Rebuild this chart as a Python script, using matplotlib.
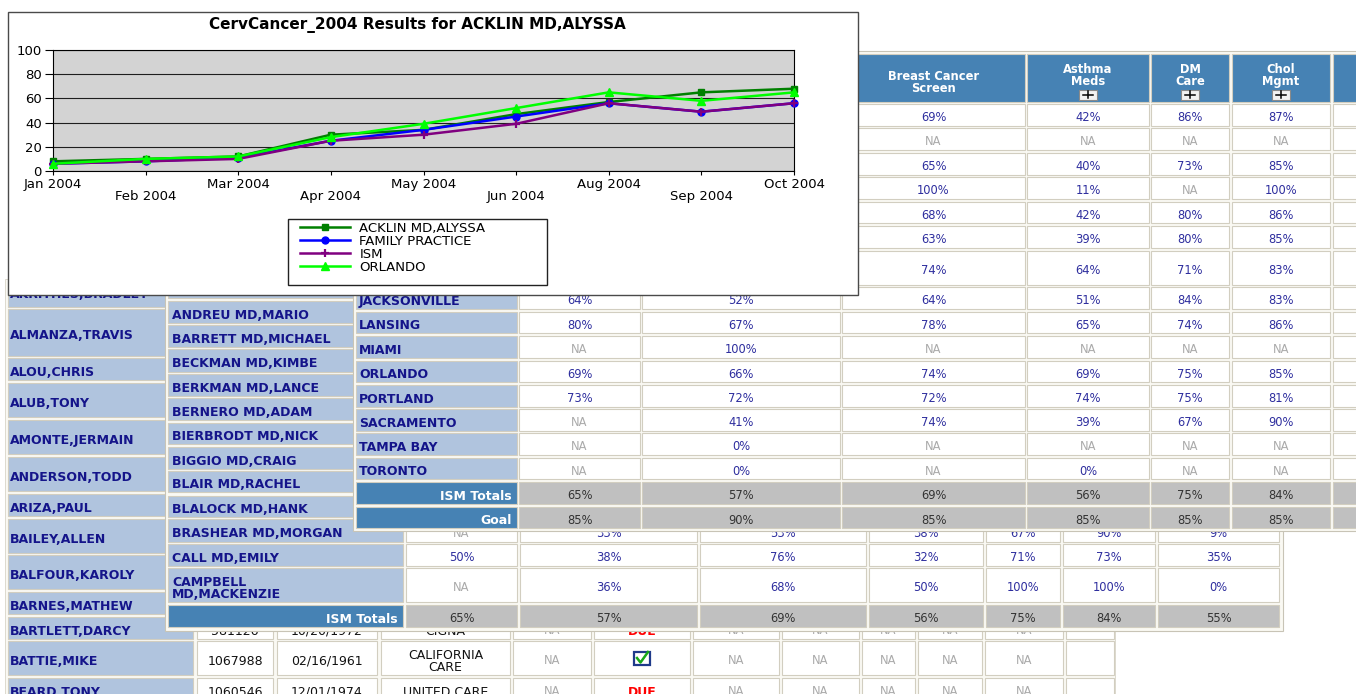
import matplotlib
matplotlib.use('Agg')
import matplotlib.pyplot as plt
from matplotlib.patches import Rectangle
from matplotlib.lines import Line2D

plt.rcParams['font.family'] = ['DejaVu Sans']

W, H, DPI = 1356, 694, 100

# ---------------- chart data ----------------
chart_title = 'CervCancer_2004 Results for ACKLIN MD,ALYSSA'
months = ['Jan 2004', 'Feb 2004', 'Mar 2004', 'Apr 2004', 'May 2004',
          'Jun 2004', 'Aug 2004', 'Sep 2004', 'Oct 2004']
series_names = ['ACKLIN MD,ALYSSA', 'FAMILY PRACTICE', 'ISM', 'ORLANDO']
acklin = [8, 10, 12, 30, 34, 47, 57, 65, 68]
family_practice = [6, 8, 11, 25, 34, 45, 56, 49, 56]
ism = [6, 8, 10, 25, 30, 39, 56, 49, 56]
orlando = [6, 10, 12, 28, 39, 52, 65, 58, 65]

# ---------------- location table (top layer) ----------------
loc_headers = ['', '', 'Breast Cancer\nScreen', 'Asthma\nMeds', 'DM\nCare', 'Chol\nMgmt', '']
loc_names = ['', '', '', '', '', '', '', 'JACKSONVILLE', 'LANSING', 'MIAMI', 'ORLANDO',
             'PORTLAND', 'SACRAMENTO', 'TAMPA BAY', 'TORONTO']
loc_c1 = ['', '', '', '', '', '', '', '64%', '80%', 'NA', '69%', '73%', 'NA', 'NA', 'NA']
loc_c2 = ['', '', '', '', '', '', '', '52%', '67%', '100%', '66%', '72%', '41%', '0%', '0%']
breast = ['69%', 'NA', '65%', '100%', '68%', '63%', '74%', '64%', '78%', 'NA', '74%', '72%', '74%', 'NA', 'NA']
asthma = ['42%', 'NA', '40%', '11%', '42%', '39%', '64%', '51%', '65%', 'NA', '69%', '74%', '39%', 'NA', '0%']
dm_care = ['86%', 'NA', '73%', 'NA', '80%', '80%', '71%', '84%', '74%', 'NA', '75%', '75%', '67%', 'NA', 'NA']
chol = ['87%', 'NA', '85%', '100%', '86%', '85%', '83%', '83%', '86%', 'NA', '85%', '81%', '90%', 'NA', 'NA']
loc_last = [''] * 15
loc_totals = ['65%', '57%', '69%', '56%', '75%', '84%', '']
loc_goal = ['85%', '90%', '85%', '85%', '85%', '85%', '']

# ---------------- physician table (middle layer) ----------------
phys_names = ['', 'ANDREU MD,MARIO', 'BARRETT MD,MICHAEL', 'BECKMAN MD,KIMBE', 'BERKMAN MD,LANCE',
              'BERNERO MD,ADAM', 'BIERBRODT MD,NICK', 'BIGGIO MD,CRAIG', 'BLAIR MD,RACHEL',
              'BLALOCK MD,HANK', 'BRASHEAR MD,MORGAN', 'CALL MD,EMILY', 'CAMPBELL\nMD,MACKENZIE']
hidden10 = [''] * 10
phys_c1 = hidden10 + ['NA', '50%', 'NA']
phys_c2 = hidden10 + ['33%', '38%', '36%']
phys_c3 = hidden10 + ['53%', '76%', '68%']
phys_c4 = hidden10 + ['38%', '32%', '50%']
phys_c5 = hidden10 + ['67%', '71%', '100%']
phys_c6 = hidden10 + ['90%', '73%', '100%']
phys_c7 = hidden10 + ['9%', '35%', '0%']
phys_totals = ['65%', '57%', '69%', '56%', '75%', '84%', '55%']

# ---------------- patient table (bottom layer) ----------------
pat_names = ['AKRITHES,BRADLEY', 'ALMANZA,TRAVIS', 'ALOU,CHRIS', 'ALUB,TONY', 'AMONTE,JERMAIN',
             'ANDERSON,TODD', 'ARIZA,PAUL', 'BAILEY,ALLEN', 'BALFOUR,KAROLY', 'BARNES,MATHEW',
             'BARTLETT,DARCY', 'BATTIE,MIKE', 'BEARD,TONY']
pat_ids = hidden10 + ['581126', '1067988', '1060546']
pat_dobs = hidden10 + ['10/20/1972', '02/16/1961', '12/01/1974']
pat_ins = hidden10 + ['CIGNA', 'CALIFORNIA\nCARE', 'UNITED CARE']
pat_m1 = hidden10 + ['NA', 'NA', 'NA']
pat_m2 = hidden10 + ['DUE', 'CHECK', 'DUE']
pat_m3 = hidden10 + ['NA', 'NA', 'NA']
pat_m4 = hidden10 + ['NA', 'NA', 'NA']
pat_m5 = hidden10 + ['NA', 'NA', 'NA']
pat_m6 = hidden10 + ['NA', 'NA', 'NA']
pat_m7 = hidden10 + ['NA', 'NA', 'NA']
pat_m8 = hidden10 + ['', '', '']

# ---------------- layout (pixels) ----------------
EDGE = '#D2CEC0'
LSB = '#B0C4DE'
STEEL = '#4682B4'
GRAY = '#C0C0C0'
NAVY = '#14148A'
VAL = '#2E2E9E'
NA_C = '#AAAAAA'
TOT = '#333333'
TBL_BG = '#FAF9F3'

fig = plt.figure(figsize=(W / DPI, H / DPI), dpi=DPI)
ax = fig.add_axes([0, 0, 1, 1])
ax.set_xlim(0, W)
ax.set_ylim(H, 0)
ax.axis('off')


def put(x, y, s, size, color, weight='normal', ha='center', z=1):
    if not s:
        return
    em = size * DPI / 72.0
    if '\n' in s:
        ax.text(x, y + 0.12 * em, s, ha=ha, va='center', multialignment=ha,
                fontsize=size, color=color, fontweight=weight, zorder=z, linespacing=0.95)
    else:
        ax.text(x, y + 0.3645 * em, s, ha=ha, va='baseline',
                fontsize=size, color=color, fontweight=weight, zorder=z)


def cell(x0, x1, y0, y1, face, z):
    ax.add_patch(Rectangle((x0, y0), x1 - x0, y1 - y0, facecolor=face,
                           edgecolor=EDGE, lw=0.8, zorder=z))


def value(x, y, s, z, total=False):
    if total:
        put(x, y, s, 8.3, TOT, z=z)
    else:
        put(x, y, s, 8.3, NA_C if s == 'NA' else VAL, z=z)


TOFF = 2.0  # text sits slightly below cell centre in the reference

# ===== Layer 1 : patient table =====
z = 1
ax.add_patch(Rectangle((5, 279), 1115 - 5, 430, facecolor=TBL_BG, edgecolor='#D8D4C8', lw=0.6, zorder=z))
p_cols = [(8, 193), (197, 273), (277, 377), (381, 510), (513, 591), (594, 690), (693, 779),
          (782, 859), (862, 915), (918, 982), (985, 1063), (1066, 1114)]
p_rows = [(282, 307), (309, 356), (358, 380), (383, 417), (420, 454), (457, 491), (494, 516),
          (519, 553), (555, 589), (592, 614), (617, 639), (641, 675), (678, 700)]
p_text_y = [293.5] + [None] * 12
p_data = [pat_ids, pat_dobs, pat_ins, pat_m1, pat_m2, pat_m3, pat_m4, pat_m5, pat_m6, pat_m7, pat_m8]
for i, (y0, y1) in enumerate(p_rows):
    cy = p_text_y[i] if p_text_y[i] is not None else (y0 + y1) / 2 + TOFF
    cell(p_cols[0][0], p_cols[0][1], y0, y1, LSB, z + 0.1)
    put(10, cy, pat_names[i], 9, NAVY, 'bold', ha='left', z=z + 0.2)
    if pat_ids[i] == '':
        continue
    for j, col in enumerate(p_data):
        x0, x1 = p_cols[j + 1]
        cell(x0, x1, y0, y1, 'white', z + 0.1)
        s = col[i]
        cx = (x0 + x1) / 2
        if s == 'NA':
            put(cx, cy, s, 8.3, NA_C, z=z + 0.2)
        elif s == 'DUE':
            put(cx, cy, s, 9, '#FF0000', 'bold', z=z + 0.2)
        elif s == 'CHECK':
            ax.add_patch(Rectangle((cx - 8, cy - 8), 16, 13, facecolor='white',
                                   edgecolor='#1F3A8A', lw=1.6, zorder=z + 0.3))
            ax.add_line(Line2D([cx - 5, cx - 1.5, cx + 6], [cy - 2, cy + 2.5, cy - 8],
                               color='#18A818', lw=1.8, zorder=z + 0.4))
        else:
            put(cx, cy, s, 9, '#111111', z=z + 0.2)

# ===== Layer 2 : physician table =====
z = 3
ax.add_patch(Rectangle((165, 272), 1283 - 165, 631 - 272, facecolor=TBL_BG, edgecolor='#C8C4B6', lw=0.8, zorder=z))
ph_cols = [(168, 403), (406, 517), (520, 697), (700, 866), (869, 983), (986, 1060), (1063, 1155), (1158, 1279)]
ph_rows = [(277, 298), (301, 323), (325, 347), (349, 372), (374, 396), (398, 420), (423, 444),
           (447, 469), (471, 492), (496, 517), (519, 542), (544, 566), (568, 602)]
ph_tot_row = (605, 627)
ph_data = [phys_c1, phys_c2, phys_c3, phys_c4, phys_c5, phys_c6, phys_c7]
for i, (y0, y1) in enumerate(ph_rows):
    cy = (y0 + y1) / 2 + TOFF
    cell(ph_cols[0][0], ph_cols[0][1], y0, y1, LSB, z + 0.1)
    put(172, cy, phys_names[i], 9, NAVY, 'bold', ha='left', z=z + 0.2)
    for j, col in enumerate(ph_data):
        x0, x1 = ph_cols[j + 1]
        cell(x0, x1, y0, y1, 'white', z + 0.1)
        value((x0 + x1) / 2, cy, col[i], z + 0.2)
y0, y1 = ph_tot_row
cy = (y0 + y1) / 2 + TOFF
cell(ph_cols[0][0], ph_cols[0][1], y0, y1, STEEL, z + 0.1)
put(398, cy, 'ISM Totals', 9, 'white', 'bold', ha='right', z=z + 0.2)
for j, s in enumerate(phys_totals):
    x0, x1 = ph_cols[j + 1]
    cell(x0, x1, y0, y1, GRAY, z + 0.1)
    value((x0 + x1) / 2, cy, s, z + 0.2, total=True)

# ===== Layer 3 : location table =====
z = 5
ax.add_patch(Rectangle((353, 51), 1400 - 353, 531 - 51, facecolor=TBL_BG, edgecolor='#C8C4B6', lw=0.8, zorder=z))
l_cols = [(356, 517), (519, 640), (642, 840), (842, 1025), (1027, 1149), (1151, 1229), (1232, 1330), (1333, 1420)]
l_head = (54, 102)
l_rows = [(104, 126), (128, 150), (153, 175), (177, 199), (202, 223), (226, 248), (251, 285),
          (287, 309), (312, 333), (336, 358), (361, 382), (385, 407), (409, 431), (433, 455), (458, 479)]
l_tot = (482, 504)
l_goal = (507, 528)
l_data = [loc_c1, loc_c2, breast, asthma, dm_care, chol, loc_last]

# header
for j, (x0, x1) in enumerate(l_cols):
    cell(x0, x1, l_head[0], l_head[1], STEEL, z + 0.1)
    if j == 0:
        continue
    hdr = loc_headers[j - 1]
    if not hdr:
        continue
    cx = (x0 + x1) / 2
    with_plus = j >= 4
    hy = 74.0 if with_plus else 81.0
    put(cx, hy, hdr, 8.3, 'white', 'bold', z=z + 0.2)
    if with_plus:
        ax.add_patch(Rectangle((cx - 9, 89.5), 18, 10, facecolor='#F2F2F2',
                               edgecolor='#8A8A8A', lw=0.8, zorder=z + 0.3))
        ax.add_line(Line2D([cx - 5, cx + 5], [94.5, 94.5], color='black', lw=1.1, zorder=z + 0.4))
        ax.add_line(Line2D([cx, cx], [91, 98], color='black', lw=1.1, zorder=z + 0.4))

for i, (y0, y1) in enumerate(l_rows):
    cy = (y0 + y1) / 2 + TOFF
    cell(l_cols[0][0], l_cols[0][1], y0, y1, LSB, z + 0.1)
    put(359, cy, loc_names[i], 9, NAVY, 'bold', ha='left', z=z + 0.2)
    for j, col in enumerate(l_data):
        x0, x1 = l_cols[j + 1]
        cell(x0, x1, y0, y1, 'white', z + 0.1)
        value((x0 + x1) / 2, cy, col[i], z + 0.2)

for label, (y0, y1), vals in [('ISM Totals', l_tot, loc_totals), ('Goal', l_goal, loc_goal)]:
    cy = (y0 + y1) / 2 + TOFF
    cell(l_cols[0][0], l_cols[0][1], y0, y1, STEEL, z + 0.1)
    put(512, cy, label, 9, 'white', 'bold', ha='right', z=z + 0.2)
    for j, s in enumerate(vals):
        x0, x1 = l_cols[j + 1]
        cell(x0, x1, y0, y1, GRAY, z + 0.1)
        value((x0 + x1) / 2, cy, s, z + 0.2, total=True)

# ===== Layer 4 : chart window =====
z = 7
ax.add_patch(Rectangle((8, 12), 850, 283, facecolor='white', edgecolor='#4A4A4A', lw=1.0, zorder=z))
put(417, 23.5, chart_title, 11, 'black', 'bold', z=z + 0.2)
ax.add_patch(Rectangle((288, 219), 259, 66, facecolor='white', edgecolor='#222222', lw=1.0, zorder=z + 0.1))

ax2 = fig.add_axes([53 / W, 1 - 171 / H, 741 / W, 121 / H])
ax2.set_zorder(10)
ax2.set_facecolor('#D3D3D3')
xs = list(range(len(months)))
ax2.plot(xs, acklin, color='#008000', lw=1.8, marker='s', ms=5, label=series_names[0], clip_on=False, zorder=3)
ax2.plot(xs, family_practice, color='#0000FF', lw=1.8, marker='o', ms=5, label=series_names[1], clip_on=False, zorder=3)
ax2.plot(xs, ism, color='#800080', lw=1.8, marker='+', ms=6, mew=1.6, label=series_names[2], clip_on=False, zorder=3)
ax2.plot(xs, orlando, color='#00FF00', lw=1.8, marker='^', ms=6, label=series_names[3], clip_on=False, zorder=3)
ax2.set_xlim(0, len(months) - 1)
ax2.set_ylim(0, 100)
ax2.set_yticks(range(0, 101, 20))
ax2.set_xticks(xs)
ax2.set_xticklabels([m if i % 2 == 0 else '\n' + m for i, m in enumerate(months)])
for lbl in ax2.get_xticklabels():
    lbl.set_linespacing(0.95)
ax2.tick_params(axis='x', length=3, width=0.8, pad=2, labelsize=9.5, direction='out')
ax2.tick_params(axis='y', length=6, width=0.8, pad=2, labelsize=9.5, direction='out')
ax2.grid(axis='y', color='#1E1E1E', lw=0.8)
ax2.set_axisbelow(True)
for sp in ax2.spines.values():
    sp.set_color('black')
    sp.set_linewidth(0.8)

ax2.legend(loc='upper left', bbox_to_anchor=(300 / W, 1 - 222 / H), bbox_transform=fig.transFigure,
           frameon=False, borderpad=0, borderaxespad=0, fontsize=9.5, handlelength=3.8,
           handletextpad=0.7, labelspacing=0.0)

fig.savefig('out.png', dpi=DPI)
